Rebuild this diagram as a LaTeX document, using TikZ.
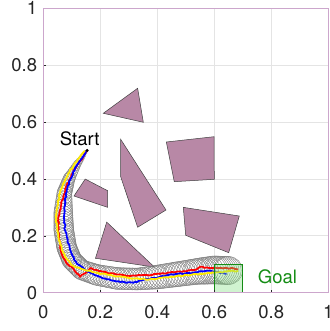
\documentclass[tikz,border=0pt]{standalone}
\usepackage{fontspec}
\setmainfont{TeX Gyre Heros}
\usetikzlibrary{decorations.pathmorphing}
\definecolor{obst}{RGB}{184,136,166}
\definecolor{axfr}{RGB}{204,166,204}
\definecolor{tickc}{RGB}{38,38,38}
\definecolor{gridc}{RGB}{228,228,228}
\definecolor{goalc}{RGB}{20,140,20}
\definecolor{goalf}{RGB}{120,220,120}
\definecolor{yel}{RGB}{255,235,0}
\tikzset{
  obstacle/.style={fill=obst, draw=black!75, line width=0.5pt},
  trail/.style={line width=1.8pt, line join=round, decorate,
    decoration={random steps, segment length=2pt, amplitude=0.6pt}},
  ticklab/.style={text=tickc, font=\fontsize{18.5}{20}\selectfont, inner sep=0pt},
  blob/.style={draw=black!50, line width=0.4pt},
}
\begin{document}
\begin{tikzpicture}[x=285pt, y=284.5pt]
\pgfmathsetseed{7}
\useasboundingbox (-0.1519,-0.1346) rectangle (1.0025,1.0288);
\foreach \v in {0.2,0.4,0.6,0.8}{
  \draw[gridc, line width=0.7pt] (\v,0) -- (\v,1);
  \draw[gridc, line width=0.7pt] (0,\v) -- (1,\v);
}
% obstacles
\draw[obstacle] (0.2105,0.6306) -- (0.331,0.7185) -- (0.351,0.599) -- cycle;
\draw[obstacle] (0.2716,0.539) -- (0.2716,0.4077) -- (0.331,0.230) -- (0.4305,0.2907) -- cycle;
\draw[obstacle] (0.4316,0.5297) -- (0.599,0.5483) -- (0.600,0.3986) -- (0.4596,0.3902) -- cycle;
\draw[obstacle] (0.4912,0.300) -- (0.6877,0.2696) -- (0.6505,0.1406) -- (0.4996,0.2018) -- cycle;
\draw[obstacle] (0.147,0.3995) -- (0.2257,0.3585) -- (0.2257,0.300) -- (0.1076,0.3398) -- cycle;
\draw[obstacle] (0.2225,0.248) -- (0.183,0.121) -- (0.39,0.09) -- cycle;
% uncertainty circles
\foreach \xa/\ya/\ra/\xb/\yb/\rb in {0.152/0.498/1.5/0.118/0.45/4, 0.118/0.45/4/0.09/0.40/6,
    0.09/0.40/6/0.074/0.35/7.5, 0.074/0.35/7.5/0.07/0.28/9.5, 0.07/0.28/9.5/0.072/0.22/10,
    0.072/0.22/10/0.082/0.16/10, 0.082/0.16/10/0.1/0.115/10, 0.1/0.115/10/0.135/0.08/10,
    0.135/0.08/10/0.19/0.062/10.5, 0.19/0.062/10.5/0.26/0.05/11, 0.26/0.05/11/0.33/0.048/11,
    0.33/0.048/11/0.40/0.055/12, 0.40/0.055/12/0.47/0.065/12.5, 0.47/0.065/12.5/0.54/0.075/13,
    0.54/0.075/13/0.60/0.08/14, 0.60/0.08/14/0.65/0.078/14}{
  \foreach \t in {0,0.15,...,0.9}{
    \pgfmathsetmacro\rr{\ra+\t*(\rb-\ra)}
    \draw[blob] ({\xa+\t*(\xb-\xa)},{\ya+\t*(\yb-\ya)}) circle (\rr pt);
  }
}
\draw[blob] (0.65,0.078) circle (14pt);
\draw[red, trail] (0.154,0.501) -- (0.140,0.478) -- (0.119,0.449) -- (0.099,0.414) -- (0.082,0.378)
  -- (0.070,0.337) -- (0.061,0.302) -- (0.053,0.267) -- (0.053,0.232) -- (0.056,0.185) -- (0.064,0.138)
  -- (0.082,0.103) -- (0.105,0.086) -- (0.129,0.056) -- (0.146,0.068) -- (0.164,0.086) -- (0.187,0.080)
  -- (0.234,0.068) -- (0.292,0.059) -- (0.363,0.062) -- (0.409,0.066) -- (0.480,0.074) -- (0.538,0.082)
  -- (0.550,0.091) -- (0.596,0.086) -- (0.667,0.086) -- (0.684,0.082);
\draw[blue, trail] (0.150,0.499) -- (0.135,0.472) -- (0.111,0.437) -- (0.094,0.396) -- (0.082,0.361)
  -- (0.076,0.314) -- (0.073,0.267) -- (0.076,0.220) -- (0.088,0.173) -- (0.099,0.138) -- (0.117,0.103)
  -- (0.146,0.080) -- (0.175,0.066) -- (0.211,0.050) -- (0.257,0.039) -- (0.316,0.035) -- (0.351,0.045)
  -- (0.409,0.056) -- (0.468,0.066) -- (0.526,0.070) -- (0.573,0.077) -- (0.608,0.074) -- (0.643,0.066);
\draw[yel, trail] (0.146,0.499) -- (0.129,0.478) -- (0.111,0.455) -- (0.088,0.419) -- (0.070,0.384)
  -- (0.058,0.349) -- (0.049,0.302) -- (0.044,0.267) -- (0.049,0.220) -- (0.058,0.173) -- (0.076,0.127)
  -- (0.099,0.097) -- (0.140,0.082) -- (0.187,0.070) -- (0.246,0.059) -- (0.316,0.050) -- (0.374,0.047)
  -- (0.433,0.054) -- (0.503,0.062) -- (0.573,0.068) -- (0.643,0.074) -- (0.684,0.077);
\coordinate (S) at (0.154,0.500);
\fill[black] (S) circle (1.6pt);
\draw[goalc, fill=goalf, fill opacity=0.35, line width=0.8pt] (0.6,0) rectangle (0.7,0.1);
\node[font=\fontsize{18.5}{20}\selectfont, inner sep=0pt] (start) at (0.1275,0.5425) {Start};
\node[font=\fontsize{18.5}{20}\selectfont, text=goalc, inner sep=0pt] (goal) at (0.8216,0.0562) {Goal};
\foreach \v [count=\i] in {0,0.2,0.4,0.6,0.8,1}{
  \draw[tickc, line width=0.6pt] (\v,0) -- (\v,0.011);
  \draw[tickc, line width=0.6pt] (0,\v) -- (0.011,\v);
  \node[ticklab, anchor=north] (xt\i) at (\v,-0.043) {\v};
  \node[ticklab, anchor=east] (yt\i) at (-0.021,\v) {\v};
}
\draw[axfr, line width=1.1pt] (0,0) rectangle (1,1);
\end{tikzpicture}
\end{document}
